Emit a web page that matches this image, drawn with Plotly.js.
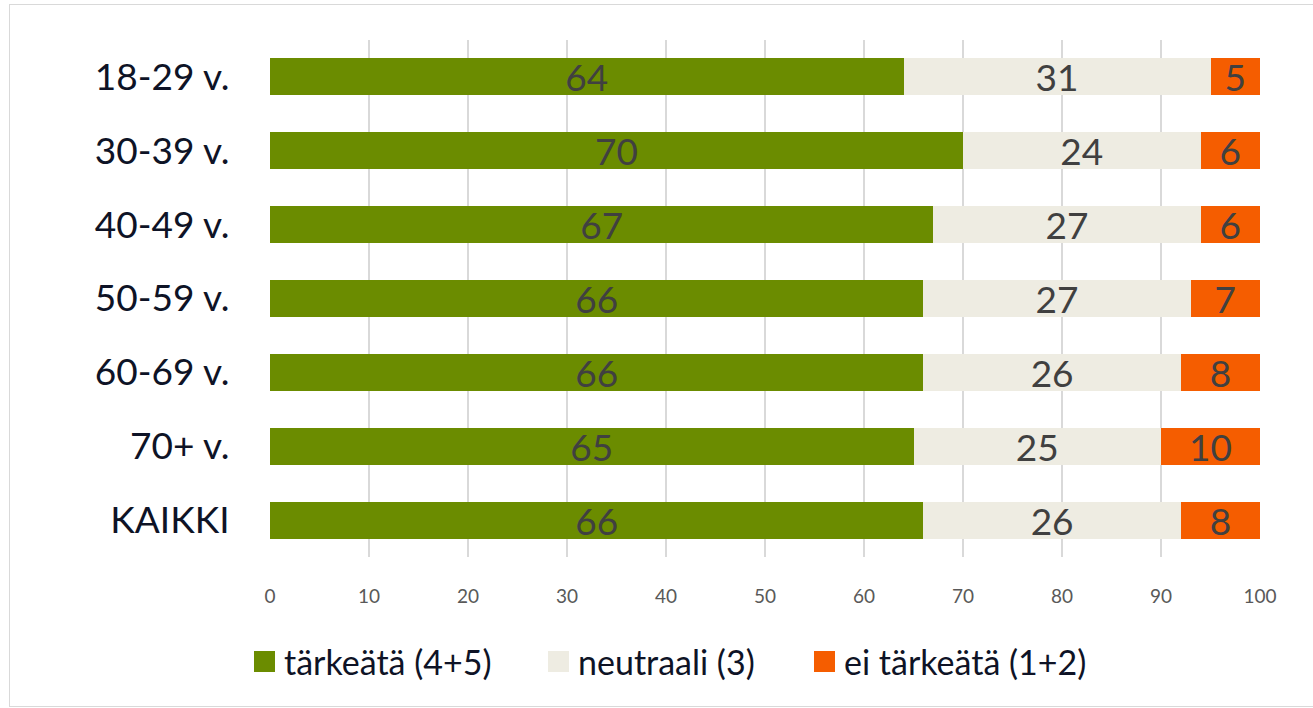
<!DOCTYPE html>
<html>
<head>
<meta charset="utf-8">
<script src="https://cdn.plot.ly/plotly-3.0.1.min.js"></script>
<style>
  html, body { margin: 0; padding: 0; background: #fff; }
  #wrap { position: relative; width: 1313px; height: 708px; }
  #chart { position: absolute; left: 0; top: 0; width: 1313px; height: 708px; }
  #frame { position: absolute; left: 9px; top: 4px; width: 1310px; height: 701px; border: 1.5px solid #D9D9D9; pointer-events: none; }
</style>
</head>
<body>
<div id="wrap">
  <div id="chart"></div>
  <div id="frame"></div>
</div>
<script>
const categories = ["18-29 v.", "30-39 v.", "40-49 v.", "50-59 v.", "60-69 v.", "70+ v.", "KAIKKI"];
const seriesNames = ["tärkeätä (4+5)", "neutraali (3)", "ei tärkeätä (1+2)"];
const important = [64, 70, 67, 66, 66, 65, 66];
const neutral = [31, 24, 27, 27, 26, 25, 26];
const notImportant = [5, 6, 6, 7, 8, 10, 8];
const xTicks = [0, 10, 20, 30, 40, 50, 60, 70, 80, 90, 100];

const colors = ["#6B8C00", "#EEECE2", "#F55D00"];
const fontFam = "Lato, 'Open Sans', sans-serif";
const seriesValues = [important, neutral, notImportant];

const traces = seriesValues.map((vals, i) => ({
  type: "bar",
  orientation: "h",
  name: seriesNames[i],
  y: categories,
  x: vals,
  text: vals.map(String),
  textposition: "inside",
  insidetextanchor: "middle",
  textangle: 0,
  constraintext: "none",
  textfont: { family: fontFam, size: 37, color: "#404040" },
  marker: { color: colors[i], line: { width: 0 } },
  hoverinfo: "x+name",
  showlegend: false
}));

// Custom legend (squares + labels) placed under the axis
const legendX = [254, 548, 814];
const legendY = 661.5;
const W = 1313, H = 708, L = 270, R = 53, T = 40, B = 151;
const pw = W - L - R, ph = H - T - B;
const toPX = px => (px - L) / pw;
const toPY = py => (H - B - py) / ph;
const sq = 21;

const shapes = legendX.map((lx, i) => ({
  type: "rect", xref: "paper", yref: "paper",
  x0: toPX(lx), x1: toPX(lx + sq),
  y0: toPY(legendY + sq / 2), y1: toPY(legendY - sq / 2),
  fillcolor: colors[i], line: { width: 0 }
}));
const annotations = legendX.map((lx, i) => ({
  xref: "paper", yref: "paper",
  x: toPX(lx + sq + 7), y: toPY(legendY),
  xanchor: "left", yanchor: "middle",
  text: seriesNames[i], showarrow: false,
  font: { family: fontFam, size: 34, color: "#0E1326" }
}));

const layout = {
  width: W, height: H,
  margin: { l: L, r: R, t: T, b: B, pad: 0 },
  barmode: "stack",
  bargap: 0.5,
  paper_bgcolor: "#ffffff",
  plot_bgcolor: "#ffffff",
  showlegend: false,
  font: { family: fontFam },
  uniformtext: { mode: false },
  xaxis: {
    range: [0, 100],
    tickvals: xTicks,
    ticktext: xTicks.map(String),
    showgrid: true,
    gridcolor: "#D9D9D9",
    gridwidth: 1.5,
    zeroline: false,
    showline: false,
    ticks: "outside",
    ticklen: 22,
    tickcolor: "rgba(0,0,0,0)",
    tickfont: { family: fontFam, size: 19, color: "#595959" },
    fixedrange: true
  },
  yaxis: {
    type: "category",
    categoryorder: "array",
    categoryarray: categories,
    autorange: "reversed",
    showgrid: false,
    zeroline: false,
    showline: false,
    ticks: "outside",
    ticklen: 32,
    tickcolor: "rgba(0,0,0,0)",
    tickfont: { family: fontFam, size: 37, color: "#0E1326" },
    fixedrange: true
  },
  shapes: shapes,
  annotations: annotations
};

Plotly.newPlot("chart", traces, layout, { displayModeBar: false, staticPlot: true });
</script>
</body>
</html>
